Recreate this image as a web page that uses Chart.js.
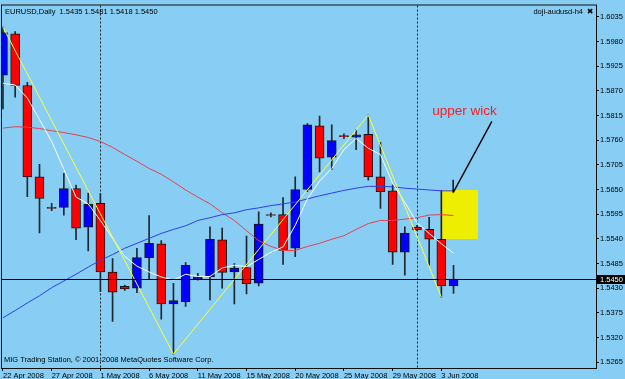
<!DOCTYPE html>
<html><head><meta charset="utf-8">
<script src="https://cdn.jsdelivr.net/npm/chart.js@4.4.1/dist/chart.umd.min.js"></script>
<style>html,body{margin:0;padding:0;background:#88cef4;}canvas{display:block;}</style>
</head><body>
<canvas id="c" width="625" height="379"></canvas>
<script>
const symbol = 'EURUSD';
const period = 'Daily';
const barDates = ['22 Apr 2008','23 Apr 2008','24 Apr 2008','25 Apr 2008','27 Apr 2008','28 Apr 2008','29 Apr 2008','30 Apr 2008',
  '1 May 2008','2 May 2008','4 May 2008','5 May 2008','6 May 2008','7 May 2008','8 May 2008','9 May 2008',
  '11 May 2008','12 May 2008','13 May 2008','14 May 2008','15 May 2008','16 May 2008','18 May 2008','19 May 2008',
  '20 May 2008','21 May 2008','22 May 2008','23 May 2008','25 May 2008','26 May 2008','27 May 2008','28 May 2008',
  '29 May 2008','30 May 2008','1 Jun 2008','2 Jun 2008','3 Jun 2008','4 Jun 2008'];
const openP  = [1.5905,1.5997,1.5882,1.5678,1.5610,1.5610,1.5652,1.5566,1.5619,1.5466,1.5434,1.5430,1.5498,1.5529,1.5395,1.5400,1.5450,1.5455,1.5538,1.5466,1.5476,1.5441,1.5594,1.5594,1.5519,1.5650,1.5792,1.5722,1.5770,1.5767,1.5773,1.5678,1.5647,1.5510,1.5566,1.5561,1.5539,1.5435];
const highP  = [1.6012,1.6002,1.5889,1.5706,1.5619,1.5686,1.5660,1.5642,1.5641,1.5496,1.5437,1.5519,1.5592,1.5536,1.5441,1.5487,1.5463,1.5567,1.5564,1.5485,1.5546,1.5600,1.5598,1.5632,1.5678,1.5797,1.5814,1.5794,1.5774,1.5783,1.5816,1.5755,1.5660,1.5567,1.5570,1.5588,1.5648,1.5481];
const lowP   = [1.5830,1.5856,1.5634,1.5553,1.5603,1.5593,1.5538,1.5513,1.5422,1.5356,1.5425,1.5420,1.5450,1.5361,1.5283,1.5389,1.5448,1.5404,1.5430,1.5395,1.5417,1.5435,1.5589,1.5483,1.5500,1.5645,1.5689,1.5695,1.5764,1.5739,1.5671,1.5608,1.5483,1.5459,1.5558,1.5481,1.5410,1.5418];
const closeP = [1.6000,1.5882,1.5678,1.5630,1.5608,1.5652,1.5564,1.5617,1.5466,1.5421,1.5428,1.5498,1.5530,1.5395,1.5402,1.5481,1.5455,1.5539,1.5465,1.5475,1.5440,1.5573,1.5592,1.5514,1.5650,1.5794,1.5720,1.5759,1.5768,1.5772,1.5678,1.5645,1.5510,1.5553,1.5560,1.5539,1.5435,1.5450];
const maWhite = [1.5887,1.5883,1.5854,1.5806,1.5757,1.5695,1.5633,1.5618,1.5581,1.5541,1.5501,1.5479,1.5466,1.5455,1.5448,1.5461,1.5456,1.5456,1.5475,1.5481,1.5478,1.5494,1.5510,1.5522,1.5570,1.5629,1.5669,1.5697,1.5739,1.5764,1.5742,1.5728,1.5664,1.5621,1.5576,1.5552,1.5529,1.5508];
const maRed   = [1.5787,1.5790,1.5789,1.5786,1.5781,1.5777,1.5772,1.5766,1.5757,1.5744,1.5728,1.5713,1.5697,1.5684,1.5667,1.5649,1.5633,1.5618,1.5598,1.5581,1.5558,1.5536,1.5523,1.5514,1.5514,1.5523,1.5530,1.5539,1.5547,1.5561,1.5574,1.5581,1.5581,1.5584,1.5587,1.5593,1.5594,1.5592];
const maBlue  = [1.5364,1.5380,1.5397,1.5413,1.5431,1.5446,1.5461,1.5477,1.5492,1.5505,1.5519,1.5530,1.5541,1.5552,1.5561,1.5569,1.5581,1.5587,1.5594,1.5598,1.5605,1.5609,1.5614,1.5618,1.5622,1.5629,1.5636,1.5642,1.5648,1.5653,1.5657,1.5657,1.5656,1.5653,1.5651,1.5649,1.5647,1.5647];
const zigzagBars = [0, 14, 30, 36];
const zigzagSide = ['high', 'low', 'high', 'low'];
const priceTicks = [1.6035,1.5980,1.5925,1.5870,1.5815,1.5760,1.5705,1.5650,1.5595,1.5540,1.5485,1.5430,1.5375,1.5320,1.5265];
const labelEvery = 4;
const separatorBars = [8, 34];
// annotation objects (in bar / price units)
const boxBars = [36, 39];
const boxPrices = [1.5539, 1.5648];
const arrowBars = [40.15, 36.97, 36.97];
const arrowPrices = [1.5802, 1.5643, 1.5672];
const noteText = 'upper wick';
const noteBar = 35.26;
const notePrice = 1.5817;
const headerRight = 'doji-audusd-h4';
const footerText = 'MIG Trading Station, \u00a9 2001-2008 MetaQuotes Software Corp.';

const BG = '#88cef4';
const SMALL = '7.5px "Liberation Sans", Arial, sans-serif';
const n = closeP.length;
const idx = barDates.map((d, i) => i);
const tickBars = idx.filter(i => i % labelEvery === 0);

const mt4 = {
  id: 'mt4',
  beforeDraw(chart) {
    const ctx = chart.ctx;
    ctx.save(); ctx.fillStyle = BG; ctx.fillRect(0, 0, chart.width, chart.height); ctx.restore();
  },
  beforeDatasetsDraw(chart) {
    const {ctx, chartArea: a, scales: {x, y}} = chart;
    ctx.save();
    ctx.beginPath(); ctx.rect(a.left, a.top, a.right - a.left, a.bottom - a.top); ctx.clip();
    // separators
    ctx.strokeStyle = '#1a1a1a'; ctx.lineWidth = 1; ctx.setLineDash([2, 2]);
    separatorBars.forEach(s => {
      const px = Math.round(x.getPixelForValue(s)) + 0.5;
      ctx.beginPath(); ctx.moveTo(px, a.top); ctx.lineTo(px, a.bottom); ctx.stroke();
    });
    ctx.setLineDash([]);
    // highlight box
    const bx0 = x.getPixelForValue(boxBars[0]), bx1 = x.getPixelForValue(boxBars[1]);
    const by0 = y.getPixelForValue(boxPrices[1]), by1 = y.getPixelForValue(boxPrices[0]);
    ctx.fillStyle = '#eeee00';
    ctx.fillRect(Math.round(bx0), Math.round(by0), Math.round(bx1 - bx0), Math.round(by1 - by0));
    ctx.restore();
  },
  afterDatasetsDraw(chart) {
    const {ctx, chartArea: a, scales: {x, y}} = chart;
    ctx.save();
    // bid line
    const by = Math.round(y.getPixelForValue(closeP[n - 1])) + 0.5;
    ctx.strokeStyle = '#000'; ctx.lineWidth = 1;
    ctx.beginPath(); ctx.moveTo(a.left, by); ctx.lineTo(a.right, by); ctx.stroke();
    // arrow
    ctx.strokeStyle = '#000'; ctx.lineWidth = 1.4;
    ctx.beginPath();
    ctx.moveTo(x.getPixelForValue(arrowBars[0]), y.getPixelForValue(arrowPrices[0]));
    ctx.lineTo(x.getPixelForValue(arrowBars[1]), y.getPixelForValue(arrowPrices[1]));
    ctx.moveTo(x.getPixelForValue(arrowBars[2]), y.getPixelForValue(arrowPrices[2]));
    ctx.lineTo(x.getPixelForValue(arrowBars[1]), y.getPixelForValue(arrowPrices[1]));
    ctx.stroke();
    // note
    ctx.fillStyle = '#ff1a1a';
    ctx.font = '13.5px "Liberation Sans", Arial, sans-serif';
    ctx.textAlign = 'left'; ctx.textBaseline = 'alphabetic';
    ctx.fillText(noteText, x.getPixelForValue(noteBar), y.getPixelForValue(notePrice));
    ctx.restore();
  },
  afterDraw(chart) {
    const {ctx, chartArea: a, scales: {y}} = chart;
    ctx.save();
    ctx.strokeStyle = '#111'; ctx.lineWidth = 1;
    ctx.strokeRect(a.left - 0.5, a.top - 0.5, a.right - a.left + 1, a.bottom - a.top + 1);
    ctx.fillStyle = '#000'; ctx.font = SMALL; ctx.textBaseline = 'middle'; ctx.textAlign = 'left';
    const last = n - 1;
    ctx.fillText(symbol + ',' + period + '  ' + [openP[last], highP[last], lowP[last], closeP[last]].map(v => v.toFixed(4)).join(' '), a.left + 3, a.top + 6);
    ctx.fillText(footerText, a.left + 2, a.bottom - 8);
    ctx.textAlign = 'right';
    ctx.fillText(headerRight, a.right - 13, a.top + 6);
    ctx.textAlign = 'center';
    ctx.font = 'bold 8px "DejaVu Sans", sans-serif';
    ctx.fillText('\u2716', a.right - 6, a.top + 6);
    // bid label on the price axis
    const py = y.getPixelForValue(closeP[last]);
    ctx.fillStyle = '#000';
    ctx.fillRect(a.right + 1, Math.round(py) - 4, chart.width - a.right - 1, 9);
    ctx.fillStyle = '#fff'; ctx.font = SMALL; ctx.textAlign = 'left';
    ctx.fillText(closeP[last].toFixed(4), a.right + 4, Math.round(py) + 0.5);
    ctx.restore();
  }
};

const bodyColors = idx.map(i => closeP[i] >= openP[i] ? '#0000ff' : '#ff0000');

new Chart(document.getElementById('c'), {
  type: 'bar',
  data: {
    datasets: [
      { type: 'bar', label: 'wick', data: idx.map(i => ({x: i, y: [lowP[i], highP[i]]})),
        backgroundColor: '#1e262e', borderWidth: 0, barThickness: 1, grouped: false, order: 6 },
      { type: 'bar', label: 'body', data: idx.map(i => ({x: i, y: [openP[i], closeP[i]]})),
        backgroundColor: bodyColors, borderColor: '#151515', borderWidth: 1, borderSkipped: false,
        barThickness: 9, grouped: false, order: 5 },
      { type: 'line', label: 'MA red', data: idx.map(i => ({x: i, y: maRed[i]})),
        borderColor: '#e8404c', borderWidth: 1, pointRadius: 0, tension: 0, order: 3 },
      { type: 'line', label: 'MA blue', data: idx.map(i => ({x: i, y: maBlue[i]})),
        borderColor: '#2f3cf0', borderWidth: 1, pointRadius: 0, tension: 0, order: 2 },
      { type: 'line', label: 'MA white', data: idx.map(i => ({x: i, y: maWhite[i]})),
        borderColor: '#ffffff', borderWidth: 1, pointRadius: 0, tension: 0, order: 1 },
      { type: 'line', label: 'ZigZag', data: zigzagBars.map((b, k) => ({x: b, y: zigzagSide[k] === 'high' ? highP[b] : lowP[b]})),
        borderColor: '#ffff30', borderWidth: 1, pointRadius: 0, tension: 0, order: 0 }
    ]
  },
  options: {
    responsive: false, animation: false, devicePixelRatio: 1, events: [],
    layout: { padding: { left: 2, top: 2, right: 0, bottom: 0 } },
    plugins: { legend: { display: false }, tooltip: { enabled: false } },
    scales: {
      x: {
        type: 'linear', min: -0.08, max: 48.7, offset: false,
        grid: { display: true, offset: false, drawOnChartArea: false, drawTicks: true, tickLength: 3, color: '#000' },
        border: { display: false },
        afterBuildTicks: s => { s.ticks = tickBars.map(v => ({value: v})); },
        afterFit: s => { s.height = 11; },
        ticks: { autoSkip: false, maxRotation: 0, minRotation: 0, align: 'start', padding: 0,
          color: '#000', font: { family: '"Liberation Sans", Arial, sans-serif', size: 7.5 },
          callback: (v, i) => barDates[tickBars[i]] }
      },
      y: {
        type: 'linear', position: 'right', min: 1.52519, max: 1.60604,
        grid: { display: true, drawOnChartArea: false, drawTicks: true, tickLength: 3, color: '#000' },
        border: { display: false },
        afterBuildTicks: s => { s.ticks = priceTicks.map(v => ({value: v})); },
        afterFit: s => { s.width = 29; },
        ticks: { autoSkip: false, padding: 1, color: '#000',
          font: { family: '"Liberation Sans", Arial, sans-serif', size: 7.5 },
          callback: v => Number(v).toFixed(4) }
      }
    }
  },
  plugins: [mt4]
});
</script>
</body></html>
